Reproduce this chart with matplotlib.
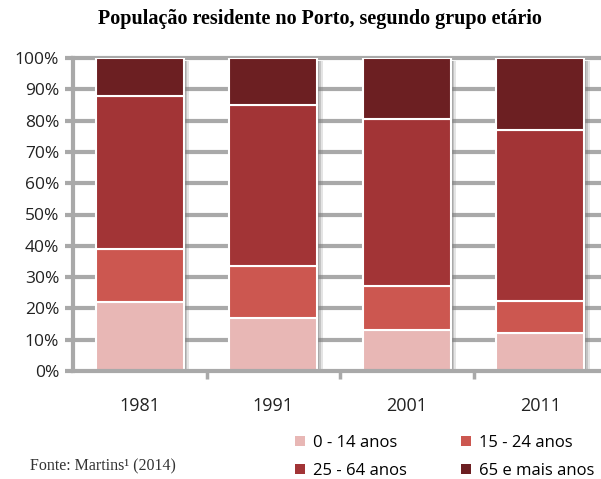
import numpy as np
import matplotlib.pyplot as plt
from matplotlib.patches import Patch

# data (percent)
years = ["1981", "1991", "2001", "2011"]
groups = ["0 - 14 anos", "15 - 24 anos", "25 - 64 anos", "65 e mais anos"]
age_0_14 = [22, 17, 13, 12]
age_15_24 = [17, 16.5, 14, 10.5]
age_25_64 = [49, 51.5, 53.5, 54.5]
age_65 = [12, 15, 19.5, 23]
colors = ["#E8B7B5", "#CC5750", "#A23436", "#6C1F22"]
yticks = [0, 10, 20, 30, 40, 50, 60, 70, 80, 90, 100]

fig = plt.figure(figsize=(6.01, 4.79), dpi=100)
ax = fig.add_axes([73 / 601, 108 / 479, 534 / 601, 313 / 479])

x = np.arange(len(years))
width = 0.66
grid_c = "#A9A9A9"

# gridlines behind everything
for t in yticks[1:]:
    ax.axhline(t, color=grid_c, lw=3, zorder=0, clip_on=False)

# soft shadow on the right of each bar
totals = np.array(age_0_14) + np.array(age_15_24) + np.array(age_25_64) + np.array(age_65)
for off, a in [(0.04, 0.2), (0.027, 0.3), (0.014, 0.4)]:
    ax.bar(x + off, totals, width, bottom=-0.8, color="#7a7a7a", alpha=a, lw=0, zorder=1)

bottom = np.zeros(len(years))
for vals, c in zip([age_0_14, age_15_24, age_25_64, age_65], colors):
    ax.bar(x, vals, width, bottom=bottom, color=c, edgecolor="white", lw=1.5, zorder=2)
    bottom += np.array(vals)

ax.set_xlim(-0.5, 3.5)
ax.set_ylim(0, 100)
ax.set_yticks(yticks)
ax.set_yticklabels([f"{t}%" for t in yticks], fontsize=12.5, family="Open Sans", color="#222222")
ax.set_xticks(x)
ax.set_xticklabels(years, fontsize=13, family="Open Sans", color="#222222")
ax.tick_params(axis="x", length=0, pad=19)
ax.set_xticks([0.5, 1.5, 2.5], minor=True)
ax.tick_params(axis="x", which="minor", length=6, width=2.5, color=grid_c)
ax.tick_params(axis="y", length=6, width=3, color=grid_c, pad=4)

for s in ["top", "right"]:
    ax.spines[s].set_visible(False)
for s in ["left", "bottom"]:
    ax.spines[s].set_color(grid_c)
    ax.spines[s].set_linewidth(3)

fig.text(320 / 601, 1 - 19 / 479, "População residente no Porto, segundo grupo etário",
         ha="center", va="center", fontsize=14.5, fontweight="bold",
         family="Liberation Serif")

fig.text(30 / 601, 1 - 466 / 479, "Fonte: Martins¹ (2014)", ha="left", va="center",
         fontsize=11.5, family="Liberation Serif", color="#333333")

# legend filled row by row: 0-14, 15-24 / 25-64, 65+
order = [0, 2, 1, 3]
handles = [Patch(facecolor=colors[i], edgecolor="none") for i in order]
labels = [groups[i] for i in order]
fig.legend(handles, labels, ncol=2, loc="upper left",
           bbox_to_anchor=(280 / 601, 1 - 420 / 479), frameon=False,
           prop={"family": "Open Sans", "size": 12}, handlelength=0.6,
           handleheight=0.6, handletextpad=0.5, columnspacing=3.2, labelspacing=0.7)

fig.savefig("out.png", dpi=100)
